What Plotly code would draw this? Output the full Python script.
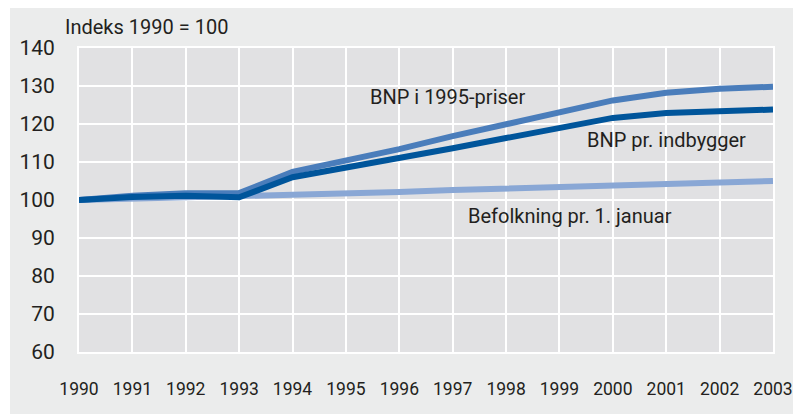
import plotly.graph_objects as go

years = list(range(1990, 2004))
bnp_1995 = [100, 101.1, 101.8, 101.8, 107.4, 110.3, 113.4, 116.8, 119.8, 122.9, 126.2, 128.2, 129.3, 129.8]
bnp_indb = [100, 100.8, 101.1, 100.7, 106.0, 108.4, 110.8, 113.6, 116.3, 118.9, 121.6, 122.9, 123.5, 123.8]
befolkning = [100, 100.3, 100.6, 100.9, 101.2, 101.6, 102.1, 102.6, 103.0, 103.4, 103.8, 104.3, 104.6, 105.0]
y_ticks = [60, 70, 80, 90, 100, 110, 120, 130, 140]

FONT = "Liberation Sans Narrow, Arial Narrow, Roboto, sans-serif"
TXT = "#231f20"

W, H = 793, 414
L, R, T, B = 79, 20, 48, 62
PW, PH = W - L - R, H - T - B

fig = go.Figure()
fig.add_trace(go.Scatter(x=years, y=befolkning, mode="lines",
                         line=dict(color="#89a7d5", width=6), name="Befolkning pr. 1. januar"))
fig.add_trace(go.Scatter(x=years, y=bnp_1995, mode="lines",
                         line=dict(color="#4a7dbb", width=6), name="BNP i 1995-priser"))
fig.add_trace(go.Scatter(x=years, y=bnp_indb, mode="lines",
                         line=dict(color="#00559b", width=6), name="BNP pr. indbygger"))

ann = [
    dict(x=1996.9, y=127.2, text="BNP i 1995-priser"),
    dict(x=2001.0, y=115.7, text="BNP pr. indbygger"),
    dict(x=1999.2, y=95.7, text="Befolkning pr. 1. januar"),
]
annotations = [dict(xref="x", yref="y", showarrow=False, xanchor="center", yanchor="middle",
                    font=dict(family=FONT, size=20, color=TXT), **a) for a in ann]
annotations.append(dict(xref="paper", yref="paper", x=(63 - L) / PW, y=1 + (T - 27) / PH,
                        xanchor="left", yanchor="middle", showarrow=False,
                        text="Indeks 1990 = 100", font=dict(family=FONT, size=20, color=TXT)))

shapes = [
    dict(type="rect", xref="paper", yref="paper", x0=-L / PW, x1=(10 - L) / PW,
         y0=-B / PH, y1=1 + T / PH, fillcolor="white", line=dict(width=0), layer="below"),
    dict(type="rect", xref="paper", yref="paper", x0=-L / PW, x1=1 + R / PW,
         y0=1 + (T - 8) / PH, y1=1 + T / PH, fillcolor="white", line=dict(width=0), layer="below"),
]

fig.update_layout(
    width=W, height=H,
    margin=dict(l=L, r=R, t=T, b=B, autoexpand=False),
    paper_bgcolor="#ebecec",
    plot_bgcolor="#e1e1e3",
    showlegend=False,
    annotations=annotations,
    shapes=shapes,
    font=dict(family=FONT, size=20, color=TXT),
)
fig.update_xaxes(range=[1990, 2003], tickmode="array", tickvals=years,
                 ticktext=[str(y) for y in years], automargin=False,
                 showgrid=True, gridcolor="white", gridwidth=2,
                 showline=True, linecolor="white", linewidth=2, mirror=True,
                 zeroline=False, ticks="", ticklabelstandoff=20,
                 tickfont=dict(family=FONT, size=17.5, color=TXT))
fig.update_yaxes(range=[60, 140], tickmode="array", tickvals=y_ticks, automargin=False,
                 showgrid=True, gridcolor="white", gridwidth=2,
                 showline=True, linecolor="white", linewidth=2, mirror=True,
                 zeroline=False, ticks="", ticklabelstandoff=18,
                 tickfont=dict(family=FONT, size=21, color=TXT))

fig.write_html("out.html",
               config={"displayModeBar": False},
               post_script="document.body.style.margin='0';"
                           "document.body.style.padding='0';"
                           "document.documentElement.style.overflow='hidden';"
                           "document.body.style.overflow='hidden';")
